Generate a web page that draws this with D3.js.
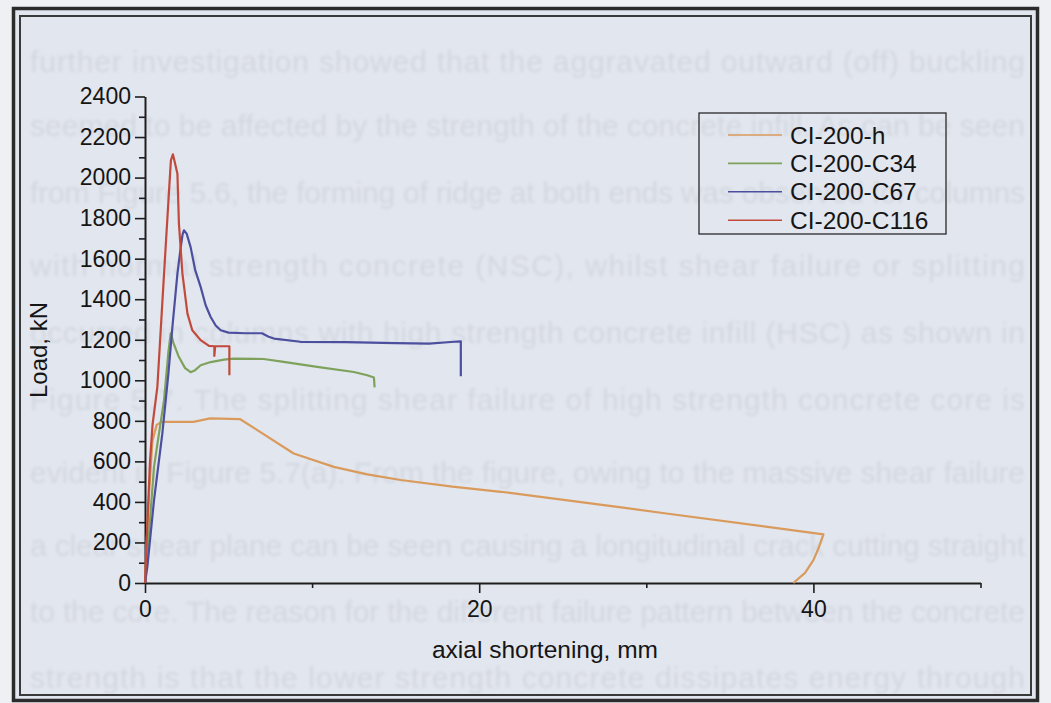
<!DOCTYPE html>
<html>
<head>
<meta charset="utf-8">
<script src="https://cdn.jsdelivr.net/npm/d3@7/dist/d3.min.js"></script>
<style>
  html, body { margin: 0; padding: 0; background: #eef0f4; }
  svg { display: block; }
</style>
</head>
<body>
<svg id="chart" width="1051" height="703"></svg>
<script>
// Load (kN) versus axial shortening (mm) for the four CI-200 columns
const seriesNames = ["CI-200-h", "CI-200-C34", "CI-200-C67", "CI-200-C116"];
const seriesColors = ["#d99a5c", "#7ea25c", "#4b4f9e", "#c24a3c"];

const ci200h = [[0,0],[0.1,200],[0.25,450],[0.44,700],[0.7,780],[1.0,795],[2.9,795],[3.9,812],[5.7,808],
  [8.9,639],[11.3,573],[13.3,536],[15.3,508],[18.4,475],[21.3,450],[28.5,373],[31.2,343],[40.6,240],
  [40.3,170],[40.0,113],[39.5,50],[38.8,0]];
const ci200c34 = [[0,0],[0.24,246],[0.54,573],[0.84,739],[1.14,902],[1.4,1140],[1.54,1231],[1.7,1185],
  [2.0,1120],[2.4,1060],[2.73,1040],[3.0,1050],[3.33,1074],[3.93,1090],[4.73,1102],[5.3,1107],[7.1,1105],
  [8.3,1091],[10.3,1066],[12.5,1041],[13.3,1025],[13.7,1014],[13.74,965]];
const ci200c67 = [[0,0],[0.14,80],[0.54,409],[1.04,739],[1.4,1033],[1.64,1263],[1.94,1526],[2.14,1657],
  [2.25,1720],[2.33,1740],[2.5,1722],[2.73,1657],[3.0,1545],[3.33,1461],[3.63,1370],[3.93,1312],
  [4.23,1270],[4.53,1247],[5.0,1235],[6.0,1232],[7.0,1232],[7.4,1215],[7.72,1206],[9.3,1190],[12,1188],
  [15,1183],[17,1181],[18.5,1190],[18.9,1192],[18.9,1020]];
const ci200c116 = [[0,0],[0.12,250],[0.3,600],[0.45,780],[0.74,968],[1.14,1526],[1.44,1937],[1.55,2085],
  [1.67,2115],[1.8,2070],[1.94,2019],[2.03,1773],[2.24,1526],[2.54,1329],[2.83,1247],[3.33,1198],
  [3.83,1170],[4.15,1168],[4.15,1120],[4.2,1168],[5.05,1168],[5.05,1025]];
const seriesData = [ci200h, ci200c34, ci200c67, ci200c116];

const yMajorTicks = [0,200,400,600,800,1000,1200,1400,1600,1800,2000,2200,2400];
const yMinorTicks = [100,300,500,700,900,1100,1300,1500,1700,1900,2100,2300];
const xMajorTicks = [0,20,40];
const xMinorTicks = [10,30,50];

// Faint paragraph printed on the page behind the figure
const pageLines = [
  "further investigation showed that the aggravated outward (off) buckling",
  "seemed to be affected by the strength of the concrete infill. As can be seen",
  "from Figure 5.6, the forming of ridge at both ends was observed for columns",
  "with normal strength concrete (NSC), whilst shear failure or splitting",
  "occurred in columns with high strength concrete infill (HSC) as shown in",
  "Figure 5.7. The splitting shear failure of high strength concrete core is",
  "evident in Figure 5.7(a). From the figure, owing to the massive shear failure",
  "a clear shear plane can be seen causing a longitudinal crack cutting straight",
  "to the core. The reason for the different failure pattern between the concrete",
  "strength is that the lower strength concrete dissipates energy through"
];
const pageLineY = [72, 136, 203, 276, 343, 410, 483, 556, 622, 688];

const svg = d3.select("#chart");
const W = 1051, H = 703;

// framed panel
svg.append("rect").attr("x", 0).attr("y", 0).attr("width", W).attr("height", H).attr("fill", "#eef0f4");
svg.append("rect").attr("x", 13).attr("y", 8).attr("width", 1025).attr("height", 693).attr("fill", "#e2e6ee");

const defs = svg.append("defs");
defs.append("clipPath").attr("id", "panel")
  .append("rect").attr("x", 20).attr("y", 16).attr("width", 1011).attr("height", 679);
defs.append("filter").attr("id", "soft")
  .append("feGaussianBlur").attr("stdDeviation", 1.5);

const pageText = svg.append("g").attr("clip-path", "url(#panel)")
  .append("g").attr("filter", "url(#soft)");
pageText.selectAll("text").data(pageLines).join("text")
  .attr("x", 30).attr("y", (d, i) => pageLineY[i])
  .attr("textLength", 995).attr("lengthAdjust", "spacing")
  .attr("font-family", "Liberation Sans, Arial, sans-serif")
  .attr("font-size", 30)
  .attr("fill", "#d3d7e0")
  .text(d => d);

const x = d3.scaleLinear().domain([0, 50]).range([145, 980.5]);
const y = d3.scaleLinear().domain([0, 2400]).range([583, 96.5]);

const font = "Liberation Sans, Arial, sans-serif";
const fmt = d3.format("d");

// y axis
const yAxis = svg.append("g").attr("transform", `translate(${x(0)},0)`);
yAxis.call(d3.axisLeft(y).tickValues(yMajorTicks).tickFormat(fmt).tickSize(10).tickPadding(4).tickSizeOuter(0));
yAxis.append("g").call(d3.axisLeft(y).tickValues(yMinorTicks).tickSize(6).tickFormat("").tickSizeOuter(0))
  .select(".domain").remove();
// x axis
const xAxis = svg.append("g").attr("transform", `translate(0,${y(0)})`);
xAxis.call(d3.axisBottom(x).tickValues(xMajorTicks).tickFormat(fmt).tickSize(10).tickPadding(8).tickSizeOuter(0));
xAxis.append("g").call(d3.axisBottom(x).tickValues(xMinorTicks).tickSize(5).tickFormat("").tickSizeOuter(0))
  .select(".domain").remove();

svg.selectAll(".domain").attr("stroke", "#1e1e1e").attr("stroke-width", 2);
svg.selectAll(".tick line").attr("stroke", "#1e1e1e").attr("stroke-width", 1.6);
svg.selectAll(".tick text").attr("font-family", font).attr("font-size", 23).attr("fill", "#151515");

// axis titles
svg.append("text").attr("x", 545).attr("y", 658).attr("text-anchor", "middle")
  .attr("font-family", font).attr("font-size", 24.5).attr("fill", "#151515")
  .text("axial shortening, mm");
svg.append("text").attr("transform", "translate(47,350) rotate(-90)").attr("text-anchor", "middle")
  .attr("font-family", font).attr("font-size", 24).attr("fill", "#151515")
  .text("Load, kN");

// curves
const line = d3.line().x(d => x(d[0])).y(d => y(d[1]));
svg.append("g").selectAll("path").data(seriesData).join("path")
  .attr("d", line)
  .attr("fill", "none")
  .attr("stroke", (d, i) => seriesColors[i])
  .attr("stroke-width", 2.2)
  .attr("stroke-linejoin", "round");

// legend
const lg = svg.append("g");
lg.append("rect").attr("x", 699).attr("y", 113).attr("width", 247).attr("height", 121)
  .attr("fill", "none").attr("stroke", "#2a2a2a").attr("stroke-width", 1.3);
const rows = lg.selectAll("g.row").data(seriesNames).join("g").attr("class", "row")
  .attr("transform", (d, i) => `translate(0,${135 + i * 28.4})`);
rows.append("line").attr("x1", 728).attr("x2", 782).attr("y1", 0).attr("y2", 0)
  .attr("stroke", (d, i) => seriesColors[i]).attr("stroke-width", 1.6);
rows.append("text").attr("x", 790).attr("y", 8.5)
  .attr("font-family", font).attr("font-size", 24.5).attr("fill", "#151515")
  .text(d => d);

// double border
svg.append("rect").attr("x", 13.5).attr("y", 8.5).attr("width", 1024).attr("height", 692)
  .attr("fill", "none").attr("stroke", "#2b2b2b").attr("stroke-width", 3.5);
svg.append("rect").attr("x", 20).attr("y", 16).attr("width", 1011).attr("height", 679)
  .attr("fill", "none").attr("stroke", "#3a3a3a").attr("stroke-width", 2);
</script>
</body>
</html>
